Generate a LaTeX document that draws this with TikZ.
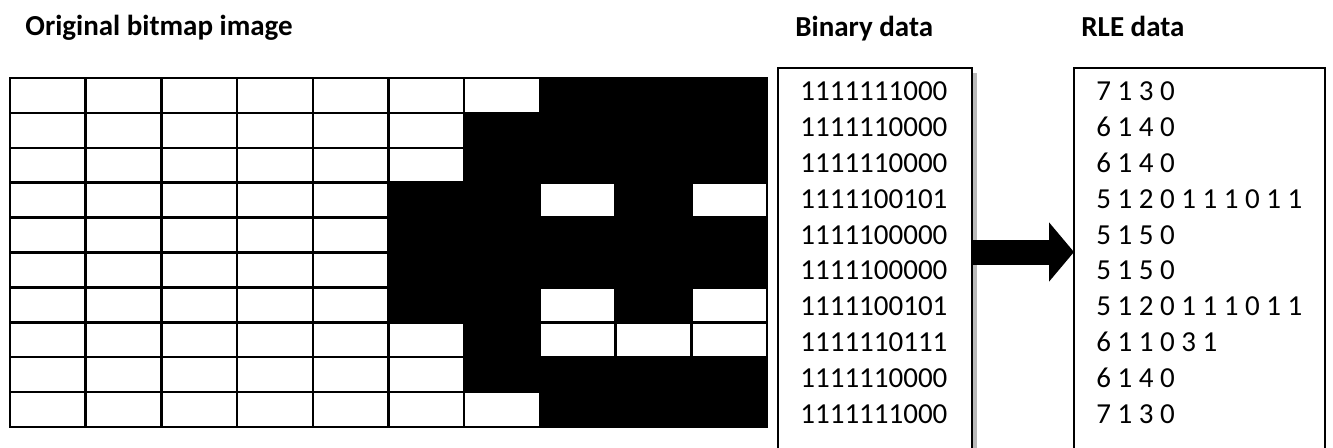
\documentclass[tikz,border=0pt]{standalone}
\usepackage{fontspec}
\setmainfont{Carlito}
\usetikzlibrary{arrows.meta}

\tikzset{
  gridline/.style={line width=1.25pt, line cap=rect},
  databox/.style={draw, line width=0.75pt, fill=white, anchor=north west,
    inner sep=0pt, outer sep=0pt, minimum height=200pt},
  datarow/.style={anchor=west, inner sep=0pt, font=\fontsize{14.5pt}{17.4pt}\selectfont},
  heading/.style={anchor=base west, inner sep=0pt, font=\fontsize{14.5pt}{17.4pt}\selectfont\bfseries},
  blockarrow/.style={line width=12.5pt, -{Triangle[length=12.5pt,width=29pt]}}
}

\begin{document}
\begin{tikzpicture}[x=0.5pt,y=-0.5pt]
    \useasboundingbox (0,0) rectangle (1333,447);
    \clip (0,0) rectangle (1333,447);

    % Headings
    \node[heading] (hbmp) at (25,35) {Original bitmap image};
    \node[heading] (hbin) at (795,36) {Binary data};
    \node[heading] (hrle) at (1081,36) {RLE data};

    % Black pixels (0 in the binary data)
    \foreach \r/\cs in {1/{8,9,10},2/{7,8,9,10},3/{7,8,9,10},4/{6,7,9},5/{6,...,10},
                        6/{6,...,10},7/{6,7,9},8/{7},9/{7,8,9,10},10/{8,9,10}}
      \foreach \c in \cs
        \fill ({10+75.7*(\c-1)},{78+34.9*(\r-1)}) rectangle ++(75.7,34.9);

    % Pixel grid 10 x 10
    \foreach \i in {0,...,10} {
      \draw[gridline] ({10+75.7*\i},78) -- ({10+75.7*\i},427);
      \draw[gridline] (10,{78+34.9*\i}) -- (767,{78+34.9*\i});
    }

    % Boxes
    \fill[gray!55] (972,73) rectangle (977,460);
    \node[databox, minimum width=97pt] (bin) at (778,68) {};
    \node[databox, minimum width=125.5pt] (rle) at (1074,68) {};

    % Rows of data
    \foreach \b [count=\i] in {1111111000,1111110000,1111110000,1111100101,1111100000,
                               1111100000,1111100101,1111110111,1111110000,1111111000}
      \node[datarow] (b\i) at (800,{91.5+35.8*(\i-1)}) {\b};
    \foreach \s [count=\i] in {7 1 3 0,6 1 4 0,6 1 4 0,5 1 2 0 1 1 1 0 1 1,5 1 5 0,
                               5 1 5 0,5 1 2 0 1 1 1 0 1 1,6 1 1 0 3 1,6 1 4 0,7 1 3 0}
      \node[datarow] (r\i) at (1096,{91.5+35.8*(\i-1)}) {\s};

    % Arrow
    \coordinate (mid) at (0,252);
    \draw[blockarrow] (bin.east |- mid) -- (rle.west |- mid);
\end{tikzpicture}
\end{document}
